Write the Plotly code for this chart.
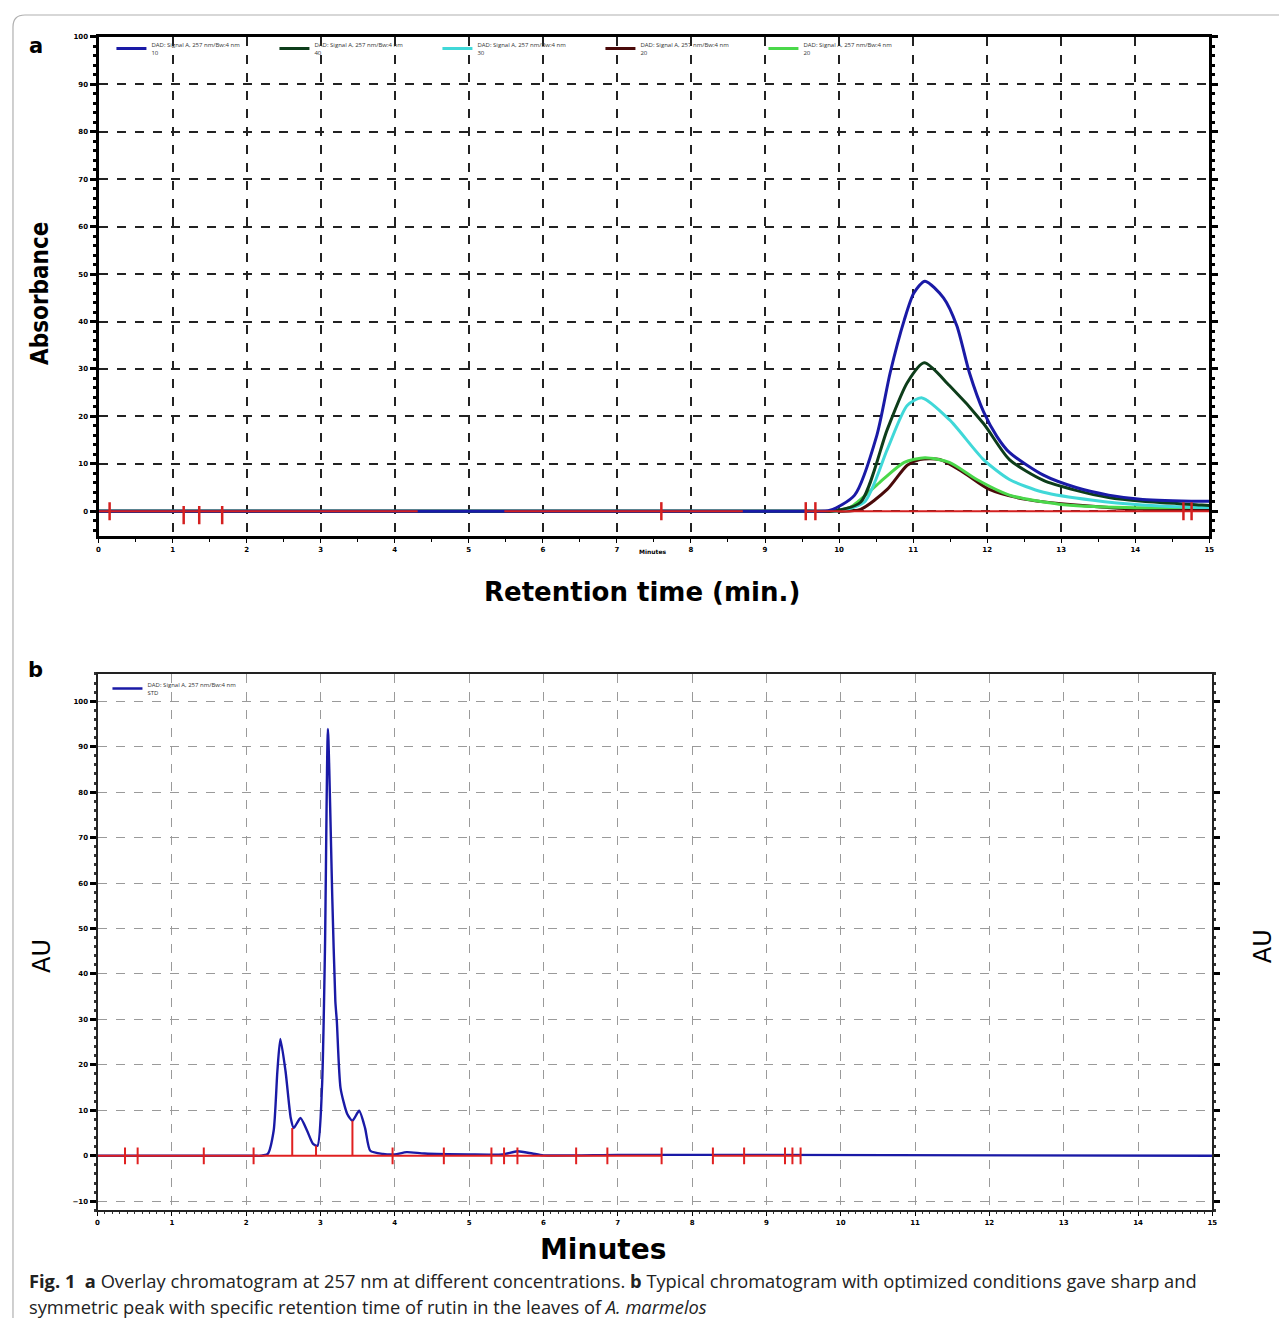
import plotly.graph_objects as go

# ---------------- Panel a data (retention time, absorbance) ----------------
a_tick_vals = list(range(0, 16))
a_tick_text = [str(v) for v in a_tick_vals]
a_y_ticks = list(range(0, 101, 10))

a_blue_x = [0, 5.0, 9.3, 9.6, 9.88, 10.21, 10.51, 10.69, 10.88, 11.01, 11.16, 11.41, 11.59, 11.76, 11.95,
            12.13, 12.30, 12.76, 13.20, 13.64, 14.10, 14.90, 15.0]
a_blue_y = [0, 0, 0, 0, 0.2, 3.4, 16.0, 29.2, 40.3, 46.0, 48.5, 45.0, 39.1, 29.2, 21.0,
            15.8, 12.4, 7.6, 5.0, 3.4, 2.5, 2.1, 2.1]

a_dkgreen_x = [0, 5.0, 9.6, 9.9, 10.29, 10.65, 10.92, 11.15, 11.49, 11.95, 12.30, 12.76, 13.20, 13.64, 14.10, 14.90, 15.0]
a_dkgreen_y = [0, 0, 0, 0, 1.9, 17.2, 27.1, 31.3, 26.5, 18.5, 10.9, 6.5, 4.4, 2.9, 2.1, 1.3, 1.2]

a_cyan_x = [0, 5.0, 9.65, 9.95, 10.34, 10.65, 10.92, 11.12, 11.49, 11.95, 12.30, 12.76, 13.43, 14.10, 14.90, 15.0]
a_cyan_y = [0, 0, 0, 0, 1.9, 13.0, 22.3, 23.9, 19.3, 10.9, 6.7, 4.0, 2.3, 1.3, 0.8, 0.8]

a_black_x = [0, 5.0, 9.7, 10.0, 10.29, 10.65, 10.92, 11.09, 11.36, 11.68, 12.03, 12.52, 13.20, 14.10, 15.0]
a_black_y = [0, 0, 0, 0, 0.4, 4.6, 9.7, 10.9, 10.9, 8.2, 4.6, 2.5, 1.3, 0.4, 0.2]

a_green_x = [0, 5.0, 9.6, 9.9, 10.15, 10.55, 10.88, 11.16, 11.49, 11.86, 12.30, 12.97, 13.87, 14.90, 15.0]
a_green_y = [0, 0, 0, 0, 0.8, 6.1, 10.3, 11.3, 10.3, 6.7, 3.4, 1.5, 0.8, 0.8, 0.8]

a_base_x = [0, 4.31, None, 5.48, 8.70, None, 9.55, 15.0]
a_base_y = [0, 0, None, 0, 0, None, 0, 0]
a_mark_x = [0.15, 1.15, 1.36, 1.67, 7.60, 9.55, 9.68, 14.65, 14.76]
a_mark_y = [0, -0.8, -0.8, -0.8, 0, 0, 0, 0, 0]

a_names = ["DAD: Signal A, 257 nm/Bw:4 nm<br>10", "DAD: Signal A, 257 nm/Bw:4 nm<br>40",
           "DAD: Signal A, 257 nm/Bw:4 nm<br>30", "DAD: Signal A, 257 nm/Bw:4 nm<br>20",
           "DAD: Signal A, 257 nm/Bw:4 nm<br>20"]
a_colors = ["#1a1aa6", "#0d3d1a", "#40d8d8", "#4a0a0a", "#4ad84a"]

# ---------------- Panel b data (minutes, AU) ----------------
b_x_ticks = list(range(0, 16))
b_y_ticks = list(range(-10, 101, 10))

b_blue_x = [0, 1.0, 2.1, 2.2, 2.29, 2.37, 2.42, 2.46, 2.53, 2.60, 2.64, 2.73, 2.82, 2.90, 2.96, 3.02, 3.06, 3.10,
            3.16, 3.20, 3.22, 3.27, 3.36, 3.43, 3.52, 3.60, 3.67, 3.84, 4.0, 4.16, 4.4, 5.0, 5.45, 5.65,
            5.85, 6.0, 7.0, 8.7, 15]
b_blue_y = [0, 0, 0, 0, 0.4, 5.5, 18.6, 25.7, 18.6, 8.3, 6.1, 8.3, 5.5, 2.6, 2.2, 14.9, 45, 93.9,
            56, 34, 29.6, 14.9, 9.2, 7.7, 9.9, 6.1, 1.1, 0.4, 0.3, 0.8, 0.5, 0.3, 0.3, 1.0,
            0.5, 0.1, 0.2, 0.2, 0]

b_base_x = [0, 7.59, None, 8.28, 9.46]
b_base_y = [0, 0, None, 0, 0]
b_mark_x = [0.37, 0.54, 1.43, 2.10, 3.97, 4.66, 5.30, 5.47, 5.65, 6.44, 6.86, 7.59, 8.28, 8.70, 9.25, 9.35, 9.46]
b_mark_y = [0] * len(b_mark_x)
b_drop_x = [2.62, 2.62, None, 2.94, 2.94, None, 3.43, 3.43]
b_drop_y = [0, 6.1, None, 0, 2.2, None, 0, 7.7]

OFF = 8  # page body margin
W, H = 1271, 1310
def px(x):
    return (x - OFF) / W
def py(y):
    return 1 - (y - OFF) / H

fig = go.Figure()

series = list(zip([a_blue_x, a_dkgreen_x, a_cyan_x, a_black_x, a_green_x],
                  [a_blue_y, a_dkgreen_y, a_cyan_y, a_black_y, a_green_y],
                  a_names, a_colors, [1, 2, 3, 4, 5]))
# draw so the blue trace sits on top; legendrank keeps legend order
for xs, ys, nm, c, rk in [series[3], series[4], series[2], series[1], series[0]]:
    fig.add_trace(go.Scatter(x=xs, y=ys, mode="lines", name=nm, legend="legend", legendrank=rk,
                             line=dict(color=c, width=3, shape="spline", smoothing=0.7),
                             xaxis="x", yaxis="y"))
fig.add_trace(go.Scatter(x=a_base_x, y=a_base_y, mode="lines", showlegend=False,
                         line=dict(color="#d42020", width=1.8), xaxis="x", yaxis="y"))
fig.add_trace(go.Scatter(x=a_mark_x, y=a_mark_y, mode="markers", showlegend=False,
                         marker=dict(symbol="line-ns", size=13, line=dict(color="#d42020", width=2.5)),
                         xaxis="x", yaxis="y"))

fig.add_trace(go.Scatter(x=b_blue_x, y=b_blue_y, mode="lines", name="DAD: Signal A, 257 nm/Bw:4 nm<br>STD",
                         legend="legend2",
                         line=dict(color="#1a1aa6", width=2.4, shape="spline", smoothing=0.6),
                         xaxis="x2", yaxis="y2"))
fig.add_trace(go.Scatter(x=b_base_x, y=b_base_y, mode="lines", showlegend=False,
                         line=dict(color="#e02020", width=2), xaxis="x2", yaxis="y2"))
fig.add_trace(go.Scatter(x=b_drop_x, y=b_drop_y, mode="lines", showlegend=False,
                         line=dict(color="#e02020", width=2), xaxis="x2", yaxis="y2"))
fig.add_trace(go.Scatter(x=b_mark_x, y=b_mark_y, mode="markers", showlegend=False,
                         marker=dict(symbol="line-ns", size=12, line=dict(color="#e02020", width=2)),
                         xaxis="x2", yaxis="y2"))

tickfont = dict(family="DejaVu Sans", size=7, color="black", weight="bold")

fig.update_layout(
    width=W, height=H, margin=dict(l=0, r=0, t=0, b=0),
    paper_bgcolor="white", plot_bgcolor="white",
    xaxis=dict(domain=[px(97), px(1214)], anchor="y", range=[0, 15],
               tickvals=a_tick_vals, ticktext=a_tick_text, tickfont=tickfont,
               showgrid=True, gridcolor="#222", griddash="dash", gridwidth=1.6,
               showline=True, linecolor="black", linewidth=3, mirror=True,
               ticks="outside", ticklen=4, tickcolor="black",
               minor=dict(dtick=0.5, ticks="outside", ticklen=3, tickcolor="black", showgrid=False),
               zeroline=False),
    yaxis=dict(domain=[py(534), py(33)], anchor="x", range=[-5.3, 100],
               tickvals=a_y_ticks, tickfont=tickfont,
               showgrid=True, gridcolor="#222", griddash="dash", gridwidth=1.6,
               showline=True, linecolor="black", linewidth=3, mirror="ticks",
               ticks="outside", ticklen=6, tickwidth=3, tickcolor="black",
               minor=dict(dtick=2, ticks="outside", ticklen=3, tickcolor="black", showgrid=False),
               zeroline=False),
    xaxis2=dict(domain=[px(96), px(1217)], anchor="y2", range=[0, 15],
                tickvals=b_x_ticks, tickfont=tickfont,
                showgrid=True, gridcolor="#9a9a9a", griddash="dash", gridwidth=1.2,
                showline=True, linecolor="#222", linewidth=2, mirror=True,
                ticks="outside", ticklen=4, tickcolor="black",
                minor=dict(dtick=0.1, ticks="outside", ticklen=2, tickcolor="#333", showgrid=False),
                zeroline=False),
    yaxis2=dict(domain=[py(1210), py(672)], anchor="x2", range=[-12, 106],
                tickvals=b_y_ticks, tickfont=tickfont,
                showgrid=True, gridcolor="#9a9a9a", griddash="dash", gridwidth=1.2,
                showline=True, linecolor="#222", linewidth=2, mirror="ticks",
                ticks="outside", ticklen=6, tickwidth=2.5, tickcolor="black",
                minor=dict(dtick=2, ticks="outside", ticklen=2, tickcolor="#333", showgrid=False),
                zeroline=False),
    legend=dict(orientation="h", x=px(110), y=py(30), xanchor="left", yanchor="top",
                bgcolor="rgba(0,0,0,0)", font=dict(size=6, color="#333"), traceorder="normal",
                entrywidth=118, itemwidth=30, tracegroupgap=0),
    legend2=dict(orientation="h", x=px(106), y=py(672), xanchor="left", yanchor="top",
                 bgcolor="rgba(0,0,0,0)", font=dict(size=6, color="#333"), itemwidth=30),
    showlegend=True,
)

# rounded outer border
r = 12
path = (f"M {px(11)},{py(1400)} L {px(11)},{py(11 + r)} "
        f"Q {px(11)},{py(11)} {px(11 + r)},{py(11)} L {px(1400)},{py(11)}")
fig.add_shape(type="path", path=path, xref="paper", yref="paper",
              line=dict(color="#b0b0b0", width=1.2))

ann = [
    dict(text="<b>a</b>", x=px(34), y=py(42), size=21, family="DejaVu Sans"),
    dict(text="<b>b</b>", x=px(34), y=py(668), size=21, family="DejaVu Sans"),
    dict(text="<b>Retention time (min.)</b>", x=px(643), y=py(590), size=26, family="DejaVu Sans"),
    dict(text="<b>Minutes</b>", x=px(655), y=py(549), size=6, family="DejaVu Sans"),
    dict(text="<b>Minutes</b>", x=px(604), y=py(1249), size=28, family="DejaVu Sans"),
]
for a in ann:
    fig.add_annotation(text=a["text"], x=a["x"], y=a["y"], xref="paper", yref="paper",
                       showarrow=False, xanchor="center", yanchor="middle",
                       font=dict(size=a["size"], family=a["family"], color="black"))

fig.add_annotation(text="<b>Absorbance</b>", x=px(38), y=py(290), xref="paper", yref="paper",
                   showarrow=False, textangle=-90, xanchor="center", yanchor="middle",
                   font=dict(size=24, family="DejaVu Sans Condensed", color="black"))
fig.add_annotation(text="AU", x=px(40), y=py(955), xref="paper", yref="paper",
                   showarrow=False, textangle=-90, xanchor="center", yanchor="middle",
                   font=dict(size=24, family="DejaVu Sans", color="black"))
fig.add_annotation(text="AU", x=px(1268), y=py(945), xref="paper", yref="paper",
                   showarrow=False, textangle=-90, xanchor="center", yanchor="middle",
                   font=dict(size=24, family="DejaVu Sans", color="black"))

cap1 = ("<b>Fig. 1</b>  <b>a</b> Overlay chromatogram at 257 nm at different concentrations. "
        "<b>b</b> Typical chromatogram with optimized conditions gave sharp and")
cap2 = "symmetric peak with specific retention time of rutin in the leaves of <i>A. marmelos</i>"
fig.add_annotation(text=cap1, x=px(25), y=py(1280), xref="paper", yref="paper", showarrow=False,
                   xanchor="left", yanchor="middle", font=dict(size=18.3, family="Open Sans", color="#222"))
fig.add_annotation(text=cap2, x=px(25), y=py(1306), xref="paper", yref="paper", showarrow=False,
                   xanchor="left", yanchor="middle", font=dict(size=18.3, family="Open Sans", color="#222"))

fig.write_html("out.html")
